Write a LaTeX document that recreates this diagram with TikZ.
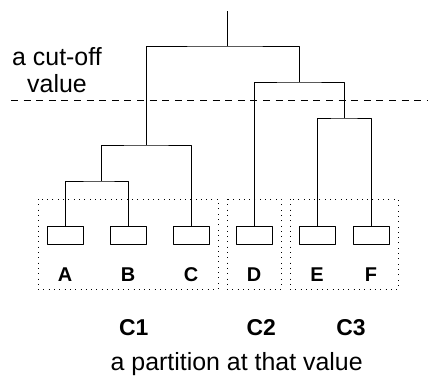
\documentclass[tikz,border=0pt]{standalone}
\usepackage{fontspec}
\setmainfont{Liberation Sans}
\usetikzlibrary{positioning}
\begin{document}
\begin{tikzpicture}[x=1bp,y=-1bp, line join=round, line width=0.7pt, font=\fontsize{25}{27}\selectfont]
	\tikzset{leaf/.style={draw, minimum width=36bp, minimum height=18bp, inner sep=0pt},
		lab/.style={font=\fontsize{20}{24}\selectfont\bfseries, anchor=base},
		clab/.style={font=\fontsize{23}{27}\selectfont\bfseries, anchor=base},
		clus/.style={draw, line width=0.8pt, dash pattern=on 0.8bp off 4.5bp},
		cutline/.style={draw, dash pattern=on 7bp off 5.6bp}}
	\useasboundingbox (0,0) rectangle (428,377);
	% leaves
	\foreach \n/\x in {A/65,B/128,C/191,D/254,E/317,F/371}{
		\node[leaf] (\n) at (\x,235.5) {};
		\node[lab] (l\n) at (\x,281) {\n};
	}
	% merges
	\coordinate (ab) at (101,181);
	\coordinate (abc) at (146,145);
	\coordinate (ef) at (344,118);
	\coordinate (def) at (299,82);
	\coordinate (root) at (227,46);
	\coordinate (top) at (227,11);
	\draw (A.north) |- (ab) -| (B.north);
	\draw (ab) |- (abc) -| (C.north);
	\draw (E.north) |- (ef) -| (F.north);
	\draw (D.north) |- (def) -| (ef);
	\draw (abc) |- (root) -| (def);
	\draw (root) -- (top);
	% cut-off
	\coordinate (cutL) at (11,100);
	\coordinate (cutR) at (428,100);
	\draw[cutline] (cutL) -- (cutR);
	\node[align=center, anchor=base] (cut) at (57,92) {a cut-off\\value};
	% clusters
	\draw[clus] (38,199) rectangle (218,289);
	\draw[clus] (227,199) rectangle (281,289);
	\draw[clus] (290,199) rectangle (398,289);
	\node[clab] (c1) at (133.8,335) {C1};
	\node[clab] (c2) at (261.3,335) {C2};
	\node[clab] (c3) at (351,335) {C3};
	\node[anchor=base] (part) at (236.7,370) {a partition at that value};
\end{tikzpicture}
\end{document}
